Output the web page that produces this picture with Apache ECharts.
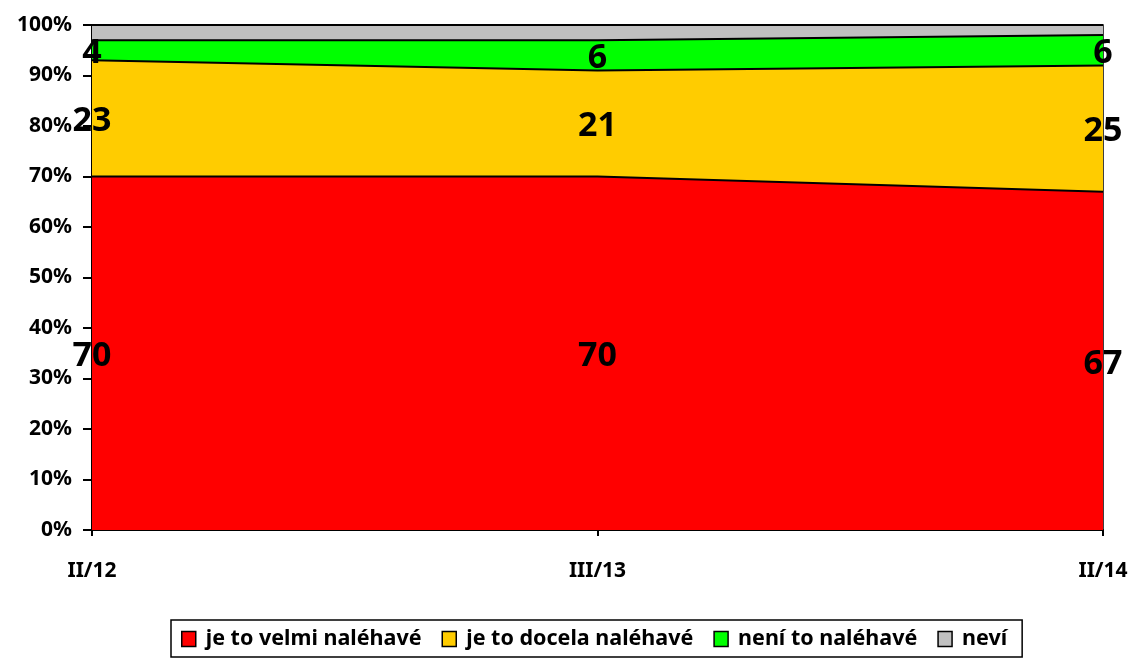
<!DOCTYPE html>
<html>
<head>
<meta charset="utf-8">
<script src="https://cdn.jsdelivr.net/npm/echarts@6/dist/echarts.min.js"></script>
<style>
  html, body { margin: 0; padding: 0; background: #fff; }
  #chart { width: 1131px; height: 659px; }
</style>
</head>
<body>
<div id="chart"></div>
<script>
  // data
  const categories = ['II/12', 'III/13', 'II/14'];
  const names = ['je to velmi naléhavé', 'je to docela naléhavé', 'není to naléhavé', 'neví'];
  const velmi = [70, 70, 67];
  const docela = [23, 21, 25];
  const neni = [4, 6, 6];
  const nevi = [3, 3, 2];
  const colors = ['#ff0000', '#ffcc00', '#00ff00', '#c0c0c0'];

  const all = [velmi, docela, neni, nevi];
  const fontFam = '"Noto Sans", sans-serif';

  let series = all.map((arr, i) => ({
    name: names[i],
    type: 'line',
    stack: 'total',
    symbol: 'none',
    areaStyle: { color: colors[i], opacity: 1 },
    itemStyle: { color: colors[i], borderColor: '#000', borderWidth: 1.5 },
    lineStyle: { color: '#000', width: 2 },
    emphasis: { disabled: true },
    data: arr
  }));

  // labels sit in the middle of each band (first three bands only)
  for (let i = 0; i < 3; i++) {
    const pts = categories.map((c, j) => {
      let base = 0;
      for (let k = 0; k < i; k++) base += all[k][j];
      return { value: [j, base + all[i][j] / 2], label: { formatter: String(all[i][j]) } };
    });
    series.push({
      type: 'scatter',
      symbolSize: 0,
      silent: true,
      z: 10,
      itemStyle: { opacity: 1 },
      label: {
        show: true,
        position: 'inside',
        offset: [0, 3],
        color: '#000',
        opacity: 1,
        fontSize: 34,
        fontWeight: 'bold',
        fontFamily: fontFam
      },
      data: pts
    });
  }

  const chart = echarts.init(document.getElementById('chart'));
  chart.setOption({
    animation: false,
    textStyle: { fontFamily: fontFam },
    grid: {
      left: 92, right: 28, top: 25, bottom: 129,
      show: true, borderColor: '#000', borderWidth: 1.5, backgroundColor: 'transparent'
    },
    legend: {
      data: names.map((n, i) => ({ name: n, itemStyle: { color: colors[i], borderColor: '#000', borderWidth: 1.5 } })),
      bottom: 2,
      left: 171,
      icon: 'rect',
      itemWidth: 14,
      itemHeight: 15,
      itemGap: 20,
      padding: [8, 15, 7, 10],
      borderColor: '#000',
      borderWidth: 1.5,
      textStyle: { fontSize: 21.5, fontWeight: 'bold', color: '#000', fontFamily: fontFam, padding: [0, 0, 0, 5] },
      selectedMode: false
    },
    xAxis: {
      type: 'category',
      boundaryGap: false,
      data: categories,
      axisLine: { lineStyle: { color: '#000', width: 2 } },
      axisTick: { show: true, length: 6, lineStyle: { color: '#000', width: 2 } },
      axisLabel: { margin: 31, fontSize: 21, fontWeight: 'bold', color: '#000' }
    },
    yAxis: {
      type: 'value',
      min: 0, max: 100, interval: 10,
      splitLine: { show: false },
      axisLine: { show: true, lineStyle: { color: '#000', width: 2 } },
      axisTick: { show: true, length: 9, lineStyle: { color: '#000', width: 2 } },
      axisLabel: { margin: 20, fontSize: 21, fontWeight: 'bold', color: '#000', formatter: '{value}%' }
    },
    series: series
  });
</script>
</body>
</html>
